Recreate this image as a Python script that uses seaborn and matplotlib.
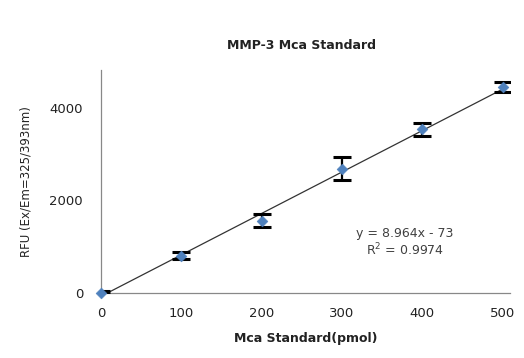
import matplotlib
matplotlib.use('Agg')
import matplotlib.pyplot as plt
import seaborn as sns
import numpy as np
import pandas as pd

# standard curve readings
pmol = [0, 100, 200, 300, 400, 500]
rfu = [0, 805, 1565, 2690, 3540, 4455]
rfu_err = [30, 75, 135, 240, 140, 110]

# trendline from the chart
slope = 8.964
intercept = -73
fit_label = 'y = 8.964x - 73\nR$^2$ = 0.9974'

sns.set_style('white')
plt.rcParams['font.family'] = ['DejaVu Sans']

fig = plt.figure(figsize=(5.24, 3.58), dpi=100)
ax = fig.add_axes([0.193, 0.182, 0.78, 0.622])

df = pd.DataFrame({'pmol': pmol, 'rfu': rfu})

line_x = np.array([pmol[0], pmol[-1]])
ax.plot(line_x, slope * line_x + intercept, color='#333333', lw=0.9, zorder=2)

ax.errorbar(pmol, rfu, yerr=rfu_err, fmt='none', ecolor='black',
            elinewidth=1.6, capsize=6.5, capthick=2.2, zorder=3)
sns.scatterplot(data=df, x='pmol', y='rfu', marker='D', s=30, color='#4F81BD',
                edgecolor='#4F81BD', ax=ax, zorder=4, clip_on=False)

ax.set_xlim(0, 509)
ax.set_ylim(0, 4820)
ax.set_xticks([0, 100, 200, 300, 400, 500])
ax.set_yticks([0, 2000, 4000])
ax.tick_params(axis='both', labelsize=9.5, colors='#222222', length=4,
               direction='out', width=0.8, pad=6)
ax.tick_params(axis='y', length=3, pad=10)
for side in ['top', 'right']:
    ax.spines[side].set_visible(False)
for side in ['left', 'bottom']:
    ax.spines[side].set_color('#888888')
    ax.spines[side].set_linewidth(0.9)

ax.set_xlabel('Mca Standard(pmol)', fontsize=9, fontweight='bold', color='#222222', labelpad=9)
ax.set_ylabel('RFU (Ex/Em=325/393nm)', fontsize=8.5, color='#222222', labelpad=12)
ax.text(378, 1080, fit_label, ha='center', va='center', fontsize=9,
        color='#404040', linespacing=1.1)

fig.text(0.575, 0.873, 'MMP-3 Mca Standard', ha='center', va='center',
         fontsize=9, fontweight='bold', color='#222222')

fig.savefig('out.png', dpi=100)
